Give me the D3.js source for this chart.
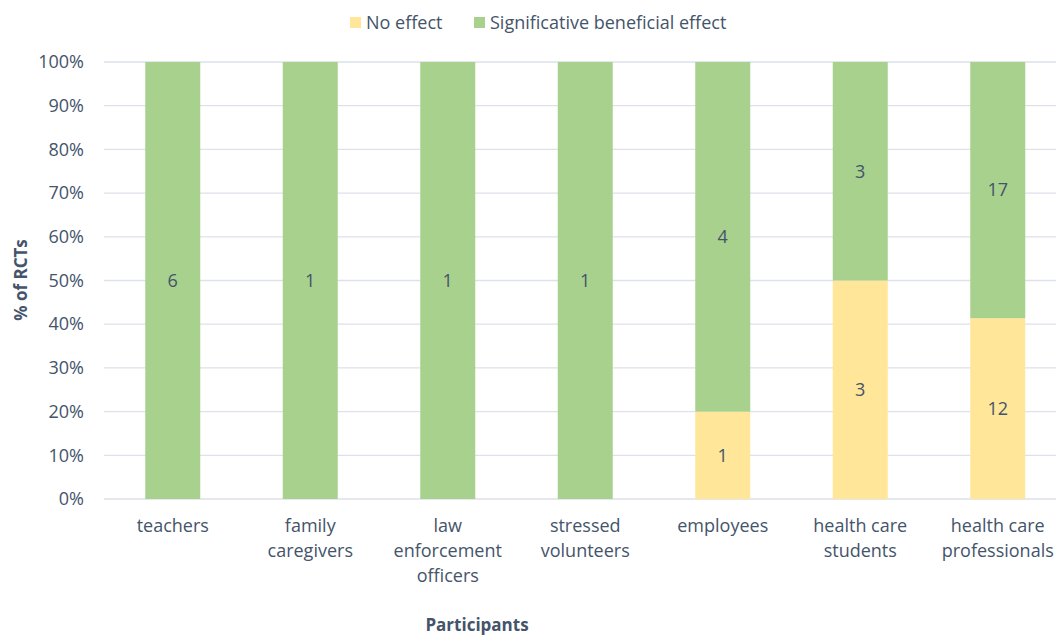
<!DOCTYPE html>
<html>
<head>
<meta charset="utf-8">
<script src="https://cdnjs.cloudflare.com/ajax/libs/d3/7.8.5/d3.min.js"></script>
<style>
  body { margin: 0; background: #fff; }
  text { font-family: "Open Sans", sans-serif; fill: #44546A; }
</style>
</head>
<body>
<div class="chart"></div>
<script>
// data
var categories = ["teachers", "family caregivers", "law enforcement officers", "stressed volunteers",
  "employees", "health care students", "health care professionals"];
var categoryLines = [["teachers"], ["family", "caregivers"], ["law", "enforcement", "officers"],
  ["stressed", "volunteers"], ["employees"], ["health care", "students"], ["health care", "professionals"]];
var noEffect = [0, 0, 0, 0, 1, 3, 12];
var beneficial = [6, 1, 1, 1, 4, 3, 17];
var seriesNames = ["No effect", "Significative beneficial effect"];
var colors = ["#FFE699", "#A9D18E"];
var yTicks = [0, 10, 20, 30, 40, 50, 60, 70, 80, 90, 100];

var svgWidth = 1056;
var svgHeight = 635;
var margin = { top: 62, right: -10.5, bottom: 136, left: 104 };
var width = svgWidth - margin.left - margin.right;
var height = svgHeight - margin.top - margin.bottom;

var svg = d3.select(".chart")
  .append("svg")
  .attr("width", svgWidth)
  .attr("height", svgHeight);

var chartGroup = svg.append("g")
  .attr("transform", `translate(${margin.left}, ${margin.top})`);

// build stacked percent rows
var rows = categories.map(function(c, i) {
  var total = noEffect[i] + beneficial[i];
  return { cat: c, noEffect: noEffect[i] / total * 100, beneficial: beneficial[i] / total * 100,
    counts: [noEffect[i], beneficial[i]] };
});
var stack = d3.stack().keys(["noEffect", "beneficial"])(rows);

var x = d3.scaleBand()
  .domain(categories)
  .range([0, width])
  .paddingInner(0.6)
  .paddingOuter(0.3);

var y = d3.scaleLinear()
  .domain([0, 100])
  .range([height, 0]);

// gridlines
chartGroup.selectAll(".grid")
  .data(yTicks)
  .enter()
  .append("line")
  .attr("x1", 0)
  .attr("x2", width)
  .attr("y1", d => y(d))
  .attr("y2", d => y(d))
  .attr("stroke", "#DDE1EA")
  .attr("stroke-width", 1.3);

// y tick labels
var yAxis = d3.axisLeft(y).tickValues(yTicks).tickFormat(d => d + "%").tickSize(0).tickPadding(20);
var yG = chartGroup.append("g").call(yAxis);
yG.select(".domain").remove();
yG.selectAll("text").style("font-size", "18px").attr("fill", "#44546A");

// bars
var layers = chartGroup.selectAll(".layer")
  .data(stack)
  .enter()
  .append("g")
  .attr("fill", (d, i) => colors[i]);

layers.selectAll("rect")
  .data(d => d)
  .enter()
  .append("rect")
  .attr("x", d => x(d.data.cat))
  .attr("y", d => y(d[1]))
  .attr("width", x.bandwidth())
  .attr("height", d => y(d[0]) - y(d[1]));

// value labels
stack.forEach(function(layer, k) {
  chartGroup.selectAll(".lbl" + k)
    .data(layer.filter(d => d[1] - d[0] > 0))
    .enter()
    .append("text")
    .attr("x", d => x(d.data.cat) + x.bandwidth() / 2)
    .attr("y", d => y((d[0] + d[1]) / 2))
    .attr("dy", "0.35em")
    .attr("text-anchor", "middle")
    .style("font-size", "18px")
    .text(d => d.data.counts[k]);
});

// category labels
categories.forEach(function(c, i) {
  var t = chartGroup.append("text")
    .attr("x", x(c) + x.bandwidth() / 2)
    .attr("y", height + 33)
    .attr("text-anchor", "middle")
    .style("font-size", "18px");
  categoryLines[i].forEach(function(line, j) {
    t.append("tspan")
      .attr("x", x(c) + x.bandwidth() / 2)
      .attr("dy", j === 0 ? 0 : 25)
      .text(line);
  });
});

// axis titles
svg.append("text")
  .attr("transform", "rotate(-90)")
  .attr("x", -280)
  .attr("y", 27)
  .attr("text-anchor", "middle")
  .style("font-size", "17px")
  .style("font-weight", "bold")
  .text("% of RCTs");

svg.append("text")
  .attr("x", 477)
  .attr("y", 631)
  .attr("text-anchor", "middle")
  .style("font-size", "17px")
  .style("font-weight", "bold")
  .text("Participants");

// legend
var legendX = [350, 474];
seriesNames.forEach(function(name, i) {
  svg.append("rect")
    .attr("x", legendX[i])
    .attr("y", 17)
    .attr("width", 11)
    .attr("height", 11)
    .attr("fill", colors[i]);
  svg.append("text")
    .attr("x", legendX[i] + 16)
    .attr("y", 29)
    .style("font-size", "18px")
    .text(name);
});
</script>
</body>
</html>
